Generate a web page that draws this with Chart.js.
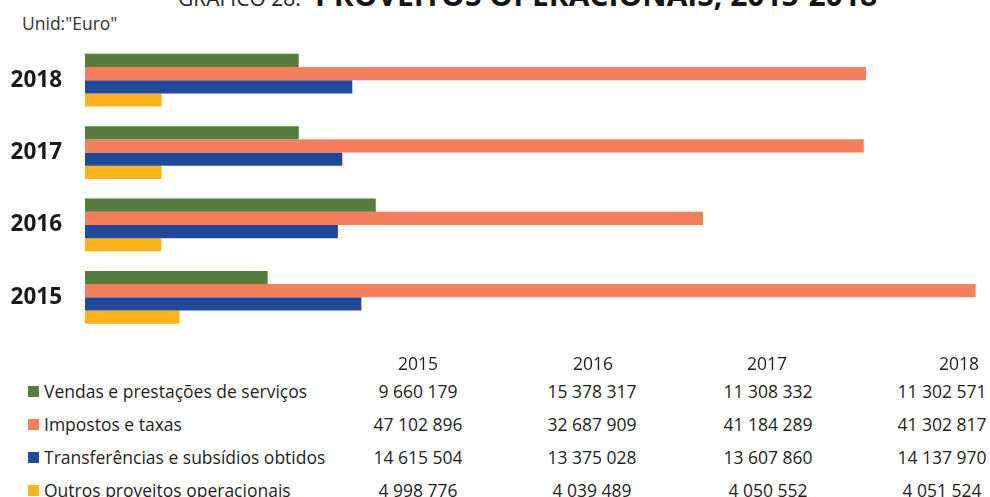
<!DOCTYPE html>
<html>
<head>
<meta charset="utf-8">
<script src="https://cdn.jsdelivr.net/npm/chart.js@4/dist/chart.umd.min.js"></script>
<style>
  html, body { margin: 0; padding: 0; background: #fff; }
  #wrap { position: relative; width: 990px; height: 497px; overflow: hidden; font-family: 'Open Sans', sans-serif; color: #1e1e1e; }
  #chart-box { position: absolute; left: 0; top: 0; width: 990px; height: 370px; }
  .txt { position: absolute; white-space: nowrap; line-height: 1; }
  .title-small { top: -11.6px; left: 178px; font-size: 21px; color: #222; }
  .title-big { top: -19.6px; left: 315px; font-size: 30px; font-weight: 700; color: #151515; }
  .unid { top: 14.5px; left: 22px; font-size: 17.5px; color: #333; }
  .sw { position: absolute; width: 11px; height: 11px; }
  .cell { transform: translateX(-50%); font-size: 17.5px; }
  .leg { font-size: 17.5px; }
</style>
</head>
<body>
<div id="wrap">
  <div class="txt title-small">GRÁFICO 28:</div>
  <div class="txt title-big">PROVEITOS OPERACIONAIS, 2015-2018</div>
  <div class="txt unid">Unid:"Euro"</div>
  <div id="chart-box"><canvas id="proveitos-chart" width="990" height="370"></canvas></div>
  <div id="table"></div>
</div>
<script>
const years = ['2015', '2016', '2017', '2018'];
const seriesNames = [
  'Vendas e prestações de serviços',
  'Impostos e taxas',
  'Transferências e subsídios obtidos',
  'Outros proveitos operacionais',
];
const vendas = [9660179, 15378317, 11308332, 11302571];
const impostos = [47102896, 32687909, 41184289, 41302817];
const transferencias = [14615504, 13375028, 13607860, 14137970];
const outros = [4998776, 4039489, 4050552, 4051524];

const colors = ['#557d3e', '#f47f5a', '#1f4a9c', '#fdb31a'];
const allSeries = [vendas, impostos, transferencias, outros];

// bars are drawn top-down: 2018 first
const labelsTopDown = years.slice().reverse();

const datasets = allSeries.map((vals, i) => ({
  label: seriesNames[i],
  data: vals.slice().reverse(),
  backgroundColor: colors[i],
  borderWidth: 0,
  barPercentage: 1,
  categoryPercentage: 0.73,
}));

const ctx = document.getElementById('proveitos-chart').getContext('2d');
new Chart(ctx, {
  type: 'bar',
  data: { labels: labelsTopDown, datasets },
  options: {
    indexAxis: 'y',
    responsive: false,
    animation: false,
    layout: { padding: { top: 44, bottom: 0, right: 5, left: 0 } },
    plugins: { legend: { display: false }, tooltip: { enabled: false } },
    scales: {
      x: { display: false, min: 0, max: 47600000 },
      y: {
        grid: { display: false, drawTicks: false },
        border: { display: false },
        ticks: {
          color: '#1a1a1a',
          padding: 23,
          font: { family: "'Open Sans', sans-serif", size: 22.5, weight: 'bold' },
        },
        afterFit: (scale) => { scale.width = 85; },
      },
    },
  },
});

// data table under the chart
const fmt = (n) => n.toString().replace(/\B(?=(\d{3})+(?!\d))/g, ' ');
const table = document.getElementById('table');
const headX = [418, 593, 767, 959];
const colX = [418, 592, 768, 942];
const rowY = [383, 416, 449, 482];
let html = '';
years.forEach((y, j) => {
  html += `<div class="txt cell" style="left:${headX[j]}px;top:355px">${y}</div>`;
});
allSeries.forEach((vals, i) => {
  html += `<div class="sw" style="left:28px;top:${rowY[i] + 3}px;background:${colors[i]}"></div>`;
  html += `<div class="txt leg" style="left:44px;top:${rowY[i]}px">${seriesNames[i]}</div>`;
  vals.forEach((v, j) => {
    html += `<div class="txt cell" style="left:${colX[j]}px;top:${rowY[i]}px">${fmt(v)}</div>`;
  });
});
table.innerHTML = html;
</script>
</body>
</html>
